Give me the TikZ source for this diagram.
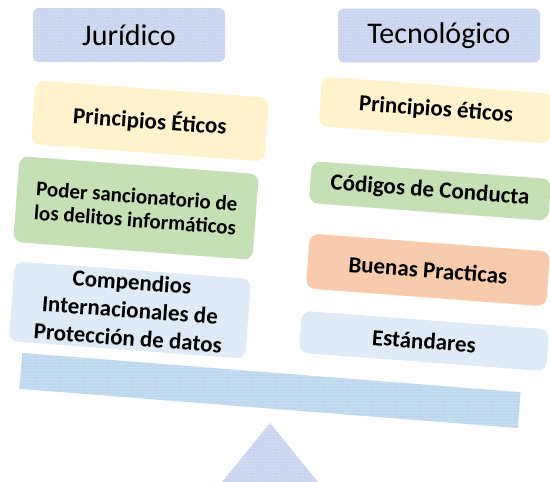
\documentclass[tikz,border=0pt]{standalone}
\usepackage{fontspec}
\setmainfont{Carlito}
\usetikzlibrary{patterns}

\definecolor{hdrblue}{HTML}{C9D4EE}
\definecolor{beamblue}{HTML}{BDD7EE}
\definecolor{boxyellow}{HTML}{FFF2CC}
\definecolor{boxgreen}{HTML}{C5E0B4}
\definecolor{boxorange}{HTML}{F8CBAD}
\definecolor{boxblue}{HTML}{DEEBF7}

\begin{document}
\begin{tikzpicture}[x=1pt, y=-1pt,
  dotted fill/.style={postaction={pattern=dots, pattern color=white}},
  hdr/.style={fill=hdrblue, dotted fill, rounded corners=6pt, minimum height=54pt, font=\fontsize{30}{35}\selectfont},
  item/.style={rounded corners=9pt, rotate=-4.3, align=center, inner sep=0pt, font=\bfseries\fontsize{23}{28}\selectfont}]
  \useasboundingbox (0,0) rectangle (550,482);

  % Headers
  \node (jur) at (129,35) [hdr, minimum width=192pt] {Jurídico};
  \node (tec) at (439,35.5) [hdr, minimum width=202pt] {Tecnológico};

  % Left pan
  \node (jurEticos) at (150,121) [item, fill=boxyellow, minimum width=234pt, minimum height=64pt] {Principios Éticos};
  \node (jurPoder) at (136,208) [item, fill=boxgreen, minimum width=240pt, minimum height=86pt, font=\bfseries\fontsize{21}{24}\selectfont] {Poder sancionatorio de\\los delitos informáticos};
  \node (jurComp) at (130,310) [item, fill=boxblue, minimum width=237pt, minimum height=80pt] {Compendios\\Internacionales de\\Protección de datos};

  % Right pan
  \node (tecEticos) at (436,110) [item, fill=boxyellow, minimum width=232pt, minimum height=50pt] {Principios éticos};
  \node (tecCodigos) at (430,191) [item, fill=boxgreen, minimum width=240pt, minimum height=42pt] {Códigos de Conducta};
  \node (tecBuenas) at (428,270) [item, fill=boxorange, minimum width=241pt, minimum height=55pt] {Buenas Practicas};
  \node (tecEstandares) at (424,341) [item, fill=boxblue, minimum width=248pt, minimum height=42pt] {Estándares};

  % Beam and fulcrum
  \node (beam) at (270,390.5) [fill=beamblue, dotted fill, rotate=-4.5, minimum width=500pt, minimum height=36pt, inner sep=0pt] {};
  \fill[hdrblue, dotted fill] (270,423) -- (318,482) -- (222,482) -- cycle;
\end{tikzpicture}
\end{document}
